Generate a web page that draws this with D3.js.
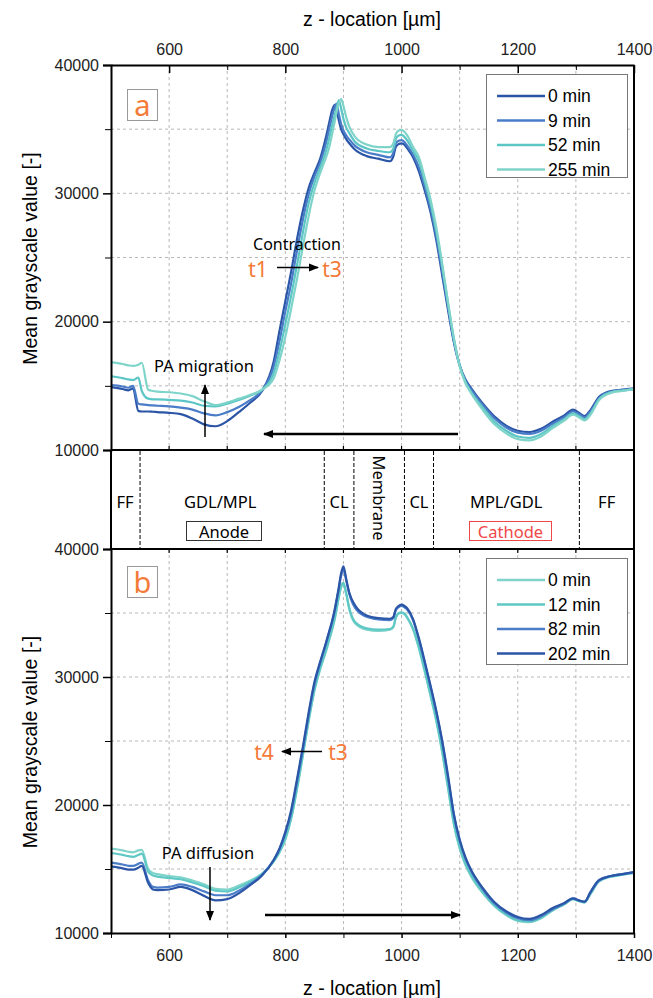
<!DOCTYPE html>
<html>
<head>
<meta charset="utf-8">
<script src="https://cdn.jsdelivr.net/npm/d3@7"></script>
<style>
  body { margin: 0; background: #fff; }
  .tick text { font-family: "Liberation Sans", Arial, sans-serif; font-size: 16px; fill: #222; }
  .lbl { font-family: "Noto Sans", sans-serif; }
</style>
</head>
<body>
<div id="chart"></div>
<script>
// z positions (µm) shared by every profile
const zLoc = [500, 520, 530, 538, 547, 553, 564, 572, 580, 600, 620, 640, 660, 680, 700, 720, 740, 760, 780, 790,
  800, 810, 820, 830, 840, 850, 860, 870, 875, 880, 885, 888, 892, 896, 900, 905, 910, 920, 940, 960,
  980, 986, 990, 995, 1000, 1005, 1010, 1020, 1030, 1040, 1050, 1060, 1070, 1080, 1090, 1100, 1110, 1120, 1140, 1160,
  1180, 1200, 1220, 1240, 1260, 1280, 1295, 1305, 1315, 1325, 1340, 1360, 1380, 1400];

// panel a
const a0 = [14900, 14750, 14650, 14800, 13050, 13000, 13000, 12980, 12950, 12900, 12800, 12450, 12000, 11850, 12250, 12950, 13700, 14600, 16900, 19300,
  21600, 23900, 26400, 28600, 30400, 31600, 32700, 34400, 35400, 36400, 36900, 36500, 35700, 35000, 34600, 34200, 33900, 33400, 32900, 32700,
  32500, 32900, 33600, 33850, 33900, 33800, 33500, 32800, 31700, 30200, 28500, 26300, 23600, 20900, 18400, 16600, 15500, 14800, 13600, 12600,
  11900, 11500, 11400, 11650, 12200, 12700, 13150, 12900, 12650, 13100, 14150, 14600, 14700, 14800];
const a9 = [15050, 14950, 14850, 15000, 13600, 13550, 13500, 13470, 13450, 13400, 13300, 13150, 12850, 12700, 12950, 13350, 13900, 14650, 16500, 18500,
  20800, 23000, 25500, 27900, 29900, 31300, 32400, 33900, 34900, 35900, 36700, 37000, 36200, 35400, 34900, 34500, 34200, 33700, 33200, 33000,
  32800, 33200, 33900, 34100, 34150, 34000, 33700, 33000, 32000, 30500, 28800, 26600, 23900, 21100, 18500, 16600, 15400, 14700, 13500, 12450,
  11750, 11350, 11250, 11500, 12050, 12550, 13000, 12800, 12550, 13000, 14050, 14550, 14650, 14750];
const a52 = [15750, 15600, 15500, 15450, 15650, 14600, 14000, 13950, 13950, 13900, 13850, 13700, 13450, 13400, 13600, 13900, 14250, 14700, 16000, 17700,
  19800, 22000, 24400, 26900, 29200, 30800, 32000, 33300, 34200, 35200, 36100, 36600, 37250, 36600, 35800, 35100, 34700, 34000, 33500, 33300,
  33200, 33500, 34200, 34500, 34550, 34400, 34100, 33300, 32500, 30900, 29200, 27000, 24300, 21400, 18700, 16600, 15300, 14500, 13300, 12200,
  11500, 11050, 10950, 11250, 11850, 12400, 12850, 12650, 12400, 12850, 13950, 14500, 14650, 14750];
const a255 = [16850, 16700, 16600, 16550, 16650, 16800, 14700, 14600, 14550, 14500, 14400, 14200, 13800, 13500, 13700, 14000, 14300, 14700, 15600, 17000,
  18800, 21000, 23300, 25800, 28200, 30200, 31600, 32800, 33500, 34500, 35600, 36300, 37000, 37350, 36800, 35900, 35200, 34400, 33800, 33600,
  33600, 33900, 34600, 34900, 34950, 34800, 34500, 33600, 32800, 31200, 29500, 27300, 24500, 21500, 18700, 16500, 15200, 14400, 13100, 12000,
  11300, 10850, 10750, 11050, 11700, 12300, 12750, 12550, 12300, 12750, 13900, 14450, 14600, 14750];

// panel b
const b0 = [16600, 16450, 16350, 16300, 16450, 16500, 15000, 14700, 14600, 14450, 14350, 14100, 13800, 13450, 13400, 13700, 14100, 14650, 15600, 16300,
  17300, 18900, 21200, 23800, 26500, 28900, 30600, 32000, 32800, 33600, 34500, 35200, 36200, 37000, 37250, 36400, 35300, 34200, 33700, 33600,
  33700, 33900, 34600, 34950, 35000, 34900, 34600, 33700, 32200, 30400, 28500, 26500, 24100, 21300, 18500, 16600, 15300, 14400, 13100, 12100,
  11400, 10950, 10850, 11150, 11750, 12250, 12650, 12500, 12400, 13050, 14050, 14400, 14550, 14700];
const b12 = [16250, 16100, 16000, 15950, 16100, 16200, 14800, 14500, 14400, 14300, 14200, 13950, 13650, 13300, 13250, 13550, 14000, 14600, 15600, 16350,
  17400, 19000, 21300, 23900, 26600, 29000, 30700, 32100, 32900, 33700, 34600, 35300, 36300, 37100, 37350, 36500, 35400, 34300, 33800, 33700,
  33750, 33950, 34650, 35000, 35050, 34950, 34650, 33750, 32300, 30500, 28600, 26600, 24200, 21400, 18600, 16700, 15400, 14500, 13200, 12150,
  11450, 11000, 10900, 11200, 11800, 12250, 12650, 12500, 12400, 13050, 14050, 14400, 14550, 14700];
const b82 = [15500, 15350, 15250, 15250, 15400, 15500, 14100, 13600, 13550, 13600, 13800, 13600, 13250, 12950, 12950, 13300, 13850, 14550, 15700, 16550,
  17800, 19400, 21800, 24300, 27000, 29400, 31100, 32600, 33400, 34200, 35150, 35900, 36900, 37900, 38400, 37500, 36500, 35400, 34700, 34500,
  34450, 34600, 35200, 35450, 35550, 35450, 35250, 34400, 32900, 31100, 29200, 27200, 24900, 22100, 19200, 17200, 15800, 14800, 13400, 12300,
  11600, 11150, 11000, 11300, 11850, 12300, 12700, 12550, 12450, 13150, 14100, 14450, 14600, 14750];
const b202 = [15200, 15050, 14950, 14950, 15100, 15250, 13900, 13400, 13350, 13400, 13600, 13350, 12900, 12550, 12650, 13100, 13750, 14500, 15700, 16600,
  17900, 19600, 22000, 24500, 27200, 29600, 31200, 32700, 33500, 34300, 35300, 36000, 37000, 38100, 38650, 37600, 36600, 35600, 34800, 34600,
  34550, 34700, 35300, 35550, 35650, 35550, 35350, 34500, 33000, 31200, 29300, 27300, 25000, 22300, 19300, 17300, 15900, 14900, 13500, 12400,
  11700, 11250, 11100, 11400, 11950, 12350, 12700, 12550, 12450, 13200, 14150, 14450, 14600, 14750];

const seriesA = [
  {name: "0 min", color: "#2b55a6", values: a0},
  {name: "9 min", color: "#4a7cc8", values: a9},
  {name: "52 min", color: "#5cc5c5", values: a52},
  {name: "255 min", color: "#7fd4ca", values: a255}
];
const seriesB = [
  {name: "0 min", color: "#7fd4ca", values: b0},
  {name: "12 min", color: "#5fc8c5", values: b12},
  {name: "82 min", color: "#4a7cc8", values: b82},
  {name: "202 min", color: "#2b55a6", values: b202}
];

const majorX = [600, 800, 1000, 1200, 1400];
const minorX = [500, 700, 900, 1100, 1300];
const gridX = [600, 700, 800, 900, 1000, 1100, 1200, 1300];
const majorY = [10000, 20000, 30000, 40000];
const minorY = [15000, 25000, 35000];
const gridY = [15000, 20000, 25000, 30000, 35000];

// layer boundaries in the band between the panels (µm)
const layerEdges = [550, 867, 918, 1005, 1055, 1306];

const W = 653, H = 998;
const orange = "#f47a38";

const svg = d3.select("#chart").append("svg")
  .attr("width", W).attr("height", H);

const x = d3.scaleLinear().domain([500, 1400]).range([111, 634]);
const yA = d3.scaleLinear().domain([10000, 40000]).range([450, 65]);
const yB = d3.scaleLinear().domain([10000, 40000]).range([933, 549]);

function panel(y, series, opts) {
  const g = svg.append("g");
  const [y0, y1] = y.range();   // bottom, top

  // grid
  g.selectAll(null).data(gridX).join("line")
    .attr("x1", d => x(d)).attr("x2", d => x(d))
    .attr("y1", y1).attr("y2", y0)
    .attr("stroke", "#b8b8b8").attr("stroke-dasharray", "3,3");
  g.selectAll(null).data(gridY).join("line")
    .attr("x1", x(500)).attr("x2", x(1400))
    .attr("y1", d => y(d)).attr("y2", d => y(d))
    .attr("stroke", "#b8b8b8").attr("stroke-dasharray", "3,3");

  // curves
  const line = d3.line()
    .x((d, i) => x(zLoc[i]))
    .y(d => y(d))
    .curve(d3.curveMonotoneX);
  g.selectAll(null).data(series).join("path")
    .attr("d", d => line(d.values))
    .attr("fill", "none")
    .attr("stroke", d => d.color)
    .attr("stroke-width", 2.2);

  // left axis
  const left = g.append("g").attr("transform", `translate(${x(500)},0)`)
    .call(d3.axisLeft(y).tickValues(majorY).tickSize(8).tickPadding(4).tickFormat(d3.format("d")));
  g.append("g").attr("transform", `translate(${x(500)},0)`)
    .call(d3.axisLeft(y).tickValues(minorY).tickSize(6).tickFormat(""))
    .select(".domain").remove();
  left.selectAll("line").attr("stroke-width", 1.5);
  left.select(".domain").attr("stroke-width", 2);

  // top / bottom axes
  if (opts.top) {
    const t = g.append("g").attr("transform", `translate(0,${y1})`)
      .call(d3.axisTop(x).tickValues(majorX).tickSizeInner(-8).tickSizeOuter(0).tickPadding(10)
        .tickFormat(d3.format("d")));
    t.selectAll(".tick text").attr("dy", "0");
    g.append("g").attr("transform", `translate(0,${y1})`)
      .call(d3.axisTop(x).tickValues(minorX.slice(1)).tickSizeInner(-5).tickSizeOuter(0).tickFormat(""))
      .select(".domain").remove();
    t.selectAll("line").attr("stroke-width", 1.5);
    t.select(".domain").attr("stroke-width", 2);
  } else {
    g.append("line").attr("x1", x(500)).attr("x2", x(1400)).attr("y1", y1).attr("y2", y1)
      .attr("stroke", "#000").attr("stroke-width", 2);
    g.selectAll(null).data(majorX.concat(minorX.slice(1)).filter(d => d < 1400)).join("line")
      .attr("x1", d => x(d)).attr("x2", d => x(d))
      .attr("y1", y1).attr("y2", y1 + 4).attr("stroke", "#000").attr("stroke-width", 1.2);
  }
  if (opts.bottom) {
    const b = g.append("g").attr("transform", `translate(0,${y0})`)
      .call(d3.axisBottom(x).tickValues(majorX).tickSize(5).tickSizeOuter(0).tickPadding(12)
        .tickFormat(d3.format("d")));
    g.append("g").attr("transform", `translate(0,${y0})`)
      .call(d3.axisBottom(x).tickValues(minorX).tickSize(5).tickFormat(""))
      .select(".domain").remove();
    b.selectAll("line").attr("stroke-width", 1.5);
    b.select(".domain").attr("stroke-width", 2);
  } else {
    g.append("line").attr("x1", x(500)).attr("x2", x(1400)).attr("y1", y0).attr("y2", y0)
      .attr("stroke", "#000").attr("stroke-width", 2);
    g.selectAll(null).data(majorX.concat(minorX.slice(1)).filter(d => d < 1400)).join("line")
      .attr("x1", d => x(d)).attr("x2", d => x(d))
      .attr("y1", y0).attr("y2", y0 - 4).attr("stroke", "#000").attr("stroke-width", 1.2);
  }
  // right frame
  g.append("line").attr("x1", x(1400)).attr("x2", x(1400)).attr("y1", y1).attr("y2", y0)
    .attr("stroke", "#000").attr("stroke-width", 2);

  // y title
  g.append("text")
    .attr("transform", `translate(30,${(y0 + y1) / 2 + 1}) rotate(-90)`)
    .attr("text-anchor", "middle").attr("dominant-baseline", "central")
    .style("font-family", "Liberation Sans, Arial, sans-serif").style("font-size", "19.5px")
    .text("Mean grayscale value [-]");

  // panel letter
  g.append("rect").attr("x", 127.5).attr("y", y1 + opts.boxOff + 0.5).attr("width", 30).attr("height", 31)
    .attr("fill", "#fff").attr("stroke", "#999");
  g.append("text").attr("class", "lbl")
    .attr("x", 142.5).attr("y", y1 + opts.boxOff + 15)
    .attr("text-anchor", "middle").attr("dominant-baseline", "central")
    .style("font-size", "29px").attr("fill", orange)
    .text(opts.letter);

  // legend
  const lg = g.append("g").attr("transform", `translate(486,${y1 + 9})`);
  lg.append("rect").attr("x", 0.5).attr("y", 0.5).attr("width", 141).attr("height", opts.legH)
    .attr("fill", "#fff").attr("stroke", "#777");
  const row = lg.selectAll(null).data(series).join("g")
    .attr("transform", (d, i) => `translate(0,${22 + i * 24.5})`);
  row.append("line").attr("x1", 11).attr("x2", 59)
    .attr("stroke", d => d.color).attr("stroke-width", 2.4);
  row.append("text").attr("x", 62).attr("dy", "0.36em")
    .style("font-family", "Liberation Sans, Arial, sans-serif").style("font-size", "17.5px")
    .text(d => d.name);
  return g;
}

panel(yA, seriesA, {top: true, bottom: false, letter: "a", boxOff: 24, legH: 103});
panel(yB, seriesB, {top: false, bottom: true, letter: "b", boxOff: 17, legH: 106});

// axis titles
svg.append("text").attr("x", 372).attr("y", 26).attr("text-anchor", "middle")
  .style("font-family", "Liberation Sans, Arial, sans-serif").style("font-size", "19.5px")
  .text("z - location [µm]");
svg.append("text").attr("x", 372).attr("y", 995).attr("text-anchor", "middle")
  .style("font-family", "Liberation Sans, Arial, sans-serif").style("font-size", "19.5px")
  .text("z - location [µm]");

// band between panels
const band = svg.append("g");
band.append("line").attr("x1", x(500)).attr("x2", x(500)).attr("y1", 450).attr("y2", 549)
  .attr("stroke", "#000").attr("stroke-width", 2);
band.append("line").attr("x1", x(1400)).attr("x2", x(1400)).attr("y1", 450).attr("y2", 549)
  .attr("stroke", "#000").attr("stroke-width", 2);
band.selectAll(null).data(layerEdges).join("line")
  .attr("x1", d => x(d)).attr("x2", d => x(d)).attr("y1", 451).attr("y2", 548)
  .attr("stroke", "#000").attr("stroke-dasharray", "4,2");

const bandLabels = [
  {t: "FF", z: 524}, {t: "GDL/MPL", z: 688}, {t: "CL", z: 892.5},
  {t: "CL", z: 1030}, {t: "MPL/GDL", z: 1180}, {t: "FF", z: 1353}
];
band.selectAll(null).data(bandLabels).join("text").attr("class", "lbl")
  .attr("x", d => x(d.z)).attr("y", 501)
  .attr("text-anchor", "middle").attr("dominant-baseline", "central")
  .style("font-size", "16.5px").text(d => d.t);
band.append("text").attr("class", "lbl")
  .attr("transform", `translate(${x(961.5)},498) rotate(90)`)
  .attr("text-anchor", "middle").attr("dominant-baseline", "central")
  .style("font-size", "16.5px").text("Membrane");
band.append("rect").attr("x", 186.5).attr("y", 521.5).attr("width", 75).attr("height", 19)
  .attr("fill", "none").attr("stroke", "#333");
band.append("text").attr("class", "lbl").attr("x", 224).attr("y", 531)
  .attr("text-anchor", "middle").attr("dominant-baseline", "central")
  .style("font-size", "16.5px").text("Anode");
band.append("rect").attr("x", 469.5).attr("y", 521.5).attr("width", 82).attr("height", 19)
  .attr("fill", "none").attr("stroke", "#f04848");
band.append("text").attr("class", "lbl").attr("x", 510.5).attr("y", 531)
  .attr("text-anchor", "middle").attr("dominant-baseline", "central")
  .style("font-size", "16.5px").attr("fill", "#f04848").text("Cathode");

// annotations
const defs = svg.append("defs");
defs.append("marker").attr("id", "head")
  .attr("viewBox", "0 0 10 10").attr("refX", 9).attr("refY", 5)
  .attr("markerWidth", 10).attr("markerHeight", 10).attr("markerUnits", "userSpaceOnUse")
  .attr("orient", "auto")
  .append("path").attr("d", "M0,1 L10,5 L0,9 Z").attr("fill", "#000");

function arrow(x1, y1, x2, y2, w) {
  svg.append("line").attr("x1", x1).attr("y1", y1).attr("x2", x2).attr("y2", y2)
    .attr("stroke", "#000").attr("stroke-width", w || 1.5).attr("marker-end", "url(#head)");
}
function note(tx, ty, text, size, color) {
  svg.append("text").attr("class", "lbl").attr("x", tx).attr("y", ty)
    .attr("text-anchor", "middle").attr("dominant-baseline", "central")
    .style("font-size", size + "px").attr("fill", color || "#000").text(text);
}

note(297, 244, "Contraction", 16);
note(258, 269, "t1", 21, orange);
note(332, 269, "t3", 21, orange);
arrow(277, 267.5, 318, 267.5);
note(204, 365, "PA migration", 16.5);
arrow(205, 437, 205, 385);
arrow(458, 434, 264, 434, 2.5);

note(264, 752, "t4", 21, orange);
note(338, 752, "t3", 21, orange);
arrow(322, 751.5, 282, 751.5);
note(208, 852, "PA diffusion", 16.5);
arrow(210, 867, 210, 920);
arrow(265, 915, 460, 915, 2.5);
</script>
</body>
</html>
